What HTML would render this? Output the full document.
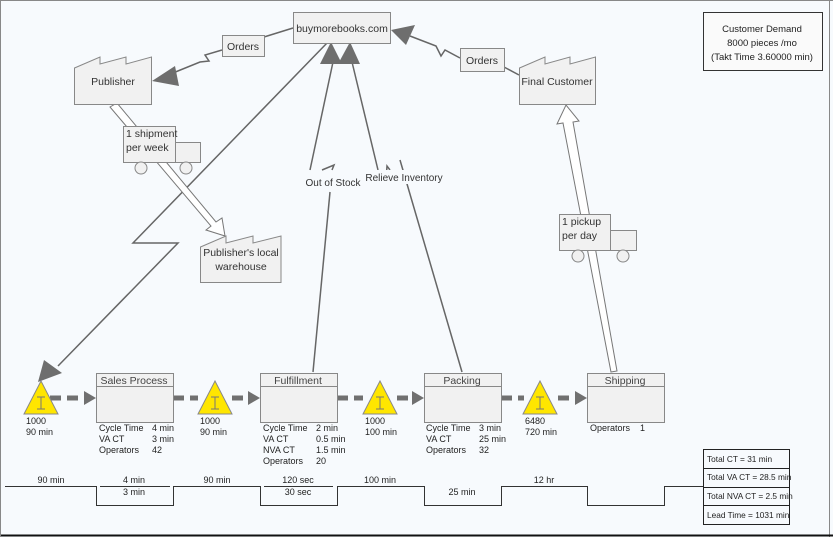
<!DOCTYPE html>
<html><head><meta charset="utf-8"><style>
html,body{margin:0;padding:0;background:#f7fafd;}
svg{display:block;font-family:"Liberation Sans",sans-serif;}
</style></head><body>
<svg width="833" height="537" viewBox="0 0 833 537" xmlns="http://www.w3.org/2000/svg">
<rect x="0" y="0" width="833" height="537" fill="#f7fafd"/>
<line x1="0" y1="0.5" x2="833" y2="0.5" stroke="#888"/>
<line x1="829.5" y1="0" x2="829.5" y2="537" stroke="#888"/>
<line x1="0" y1="535.5" x2="833" y2="535.5" stroke="#111" stroke-width="2"/>
<line x1="0.5" y1="0" x2="0.5" y2="537" stroke="#888"/>

<g stroke="#666" stroke-width="1.5" fill="none">
<polyline points="293,28 264,37"/>
<polyline points="222,50 205,55 209,61 200,62 168,75"/>
<polyline points="460,58 445,50 441,56 436,46 410,36"/>
<polyline points="504,67 519,75"/>
<polyline points="327,43 133,243 178,243 58,366"/>
<polyline points="313,372 330,192"/>
<polyline points="322,170 334,165 332,170"/>
<polyline points="310,170 333,62"/>
<polyline points="462,372 400,160"/>
<polyline points="386,180 387,166 390,170"/>
<polyline points="378,170 352,62"/>
</g>
<g fill="#6e6e6e">
<polygon points="152,81 175,66 179,86"/>
<polygon points="391,30 415,25 406,45"/>
<polygon points="331,42 320,64 342,64"/>
<polygon points="350,42 338,64 360,64"/>
<polygon points="38,382 44,360 62,373"/>
</g>

<g fill="#fff" stroke="#777" stroke-width="1">
<polygon points="110,107 117,103 216,222 222,218 225,236 206,230 211,226"/>
<polygon points="611,372 617,371 573,122 579,121 566,105 557,124 563,123"/>
</g>

<g fill="#f1f1f1" stroke="#888">
<rect x="293.5" y="12.5" width="97" height="31"/>
<rect x="222.5" y="35.5" width="42" height="21"/>
<rect x="460.5" y="48.5" width="44" height="23"/>
<polygon points="74.5,68 100,57 100,64 126,57 126,64 151.5,57 151.5,104.5 74.5,104.5"/>
<polygon points="519.5,68 545,57 545,64 570,57 570,64 595.5,57 595.5,104.5 519.5,104.5"/>
<polygon points="200.5,247 226,236 226,243 253,236 253,243 281,236 281,282.5 200.5,282.5"/>
<rect x="123.5" y="126.5" width="52" height="36"/>
<rect x="175.5" y="142.5" width="25" height="20"/>
<circle cx="141" cy="168" r="6"/>
<circle cx="186" cy="168" r="6"/>
<rect x="559.5" y="214.5" width="51" height="36"/>
<rect x="610.5" y="230.5" width="26" height="20"/>
<circle cx="578" cy="256" r="6"/>
<circle cx="623" cy="256" r="6"/>
</g>
<rect x="703.5" y="12.5" width="119" height="58" fill="#fafafa" stroke="#333"/>

<g font-size="10.5" fill="#333">
<text x="342" y="32" text-anchor="middle">buymorebooks.com</text>
<text x="243" y="50" text-anchor="middle">Orders</text>
<text x="482" y="64" text-anchor="middle">Orders</text>
<text x="113" y="85" text-anchor="middle">Publisher</text>
<text x="557" y="85" text-anchor="middle">Final Customer</text>
<text x="241" y="256" text-anchor="middle">Publisher's local</text>
<text x="241" y="270" text-anchor="middle">warehouse</text>
<text x="126" y="137">1 shipment</text>
<text x="126" y="151">per week</text>
<text x="562" y="225">1 pickup</text>
<text x="562" y="239">per day</text>
</g>
<rect x="303" y="175" width="60" height="14" fill="#f7fafd"/>
<rect x="365" y="170" width="80" height="14" fill="#f7fafd"/>
<g font-size="10" fill="#333">
<text x="333" y="186" text-anchor="middle">Out of Stock</text>
<text x="404" y="181" text-anchor="middle">Relieve Inventory</text>
</g>
<g font-size="9.5" fill="#222" text-anchor="middle">
<text x="762" y="32">Customer Demand</text>
<text x="762" y="46">8000 pieces /mo</text>
<text x="762" y="60">(Takt Time 3.60000 min)</text>
</g>

<g stroke="#707070" stroke-width="5" stroke-dasharray="11,6">
<line x1="50" y1="398" x2="84" y2="398"/>
<line x1="173" y1="398" x2="198" y2="398"/>
<line x1="232" y1="398" x2="248" y2="398"/>
<line x1="337" y1="398" x2="363" y2="398"/>
<line x1="397" y1="398" x2="412" y2="398"/>
<line x1="501" y1="398" x2="524" y2="398"/>
<line x1="558" y1="398" x2="575" y2="398"/>
</g>
<g fill="#707070">
<polygon points="96,398 84,391 84,405"/>
<polygon points="260,398 248,391 248,405"/>
<polygon points="424,398 412,391 412,405"/>
<polygon points="587,398 575,391 575,405"/>
</g>

<g fill="#f1f1f1" stroke="#888">
<rect x="96.5" y="373.5" width="77" height="49"/>
<rect x="260.5" y="373.5" width="77" height="49"/>
<rect x="424.5" y="373.5" width="77" height="49"/>
<rect x="587.5" y="373.5" width="77" height="49"/>
</g>
<g stroke="#888">
<line x1="96" y1="386.5" x2="174" y2="386.5"/>
<line x1="260" y1="386.5" x2="338" y2="386.5"/>
<line x1="424" y1="386.5" x2="502" y2="386.5"/>
<line x1="587" y1="386.5" x2="665" y2="386.5"/>
</g>
<g font-size="10.5" fill="#444" text-anchor="middle">
<text x="134" y="384">Sales Process</text>
<text x="298" y="384">Fulfillment</text>
<text x="462" y="384">Packing</text>
<text x="625" y="384">Shipping</text>
</g>

<g fill="#ffe600" stroke="#888">
<polygon points="41,381 24,414 58,414"/>
<polygon points="215,381 198,414 232,414"/>
<polygon points="380,381 363,414 397,414"/>
<polygon points="540,381 523,414 557,414"/>
</g>
<g stroke="#777" stroke-width="1" fill="none">
<path d="M37,397h8M41,397v12M37,409h8"/>
<path d="M211,397h8M215,397v12M211,409h8"/>
<path d="M376,397h8M380,397v12M376,409h8"/>
<path d="M536,397h8M540,397v12M536,409h8"/>
</g>

<g font-size="9" fill="#222">
<text x="26" y="424">1000</text><text x="26" y="435">90 min</text>
<text x="200" y="424">1000</text><text x="200" y="435">90 min</text>
<text x="365" y="424">1000</text><text x="365" y="435">100 min</text>
<text x="525" y="424">6480</text><text x="525" y="435">720 min</text>
<text x="99" y="431">Cycle Time</text><text x="152" y="431">4 min</text>
<text x="99" y="442">VA CT</text><text x="152" y="442">3 min</text>
<text x="99" y="453">Operators</text><text x="152" y="453">42</text>
<text x="263" y="431">Cycle Time</text><text x="316" y="431">2 min</text>
<text x="263" y="442">VA CT</text><text x="316" y="442">0.5 min</text>
<text x="263" y="453">NVA CT</text><text x="316" y="453">1.5 min</text>
<text x="263" y="464">Operators</text><text x="316" y="464">20</text>
<text x="426" y="431">Cycle Time</text><text x="479" y="431">3 min</text>
<text x="426" y="442">VA CT</text><text x="479" y="442">25 min</text>
<text x="426" y="453">Operators</text><text x="479" y="453">32</text>
<text x="590" y="431">Operators</text><text x="640" y="431">1</text>
</g>

<polyline fill="none" stroke="#333" points="5,486.5 96.5,486.5 96.5,505.5 173.5,505.5 173.5,486.5 260.5,486.5 260.5,505.5 337.5,505.5 337.5,486.5 424.5,486.5 424.5,505.5 501.5,505.5 501.5,486.5 587.5,486.5 587.5,505.5 664.5,505.5 664.5,486.5 703,486.5"/>
<g stroke="#333"><line x1="100" y1="486.5" x2="170" y2="486.5"/><line x1="264" y1="486.5" x2="333" y2="486.5"/></g>
<g font-size="9" fill="#222" text-anchor="middle">
<text x="51" y="483">90 min</text>
<text x="134" y="483">4 min</text><text x="134" y="495">3 min</text>
<text x="217" y="483">90 min</text>
<text x="298" y="483">120 sec</text><text x="298" y="495">30 sec</text>
<text x="380" y="483">100 min</text>
<text x="462" y="495">25 min</text>
<text x="544" y="483">12 hr</text>
</g>

<rect x="703.5" y="449.5" width="86" height="75" fill="#f7fafd" stroke="#222"/>
<g stroke="#222">
<line x1="703" y1="468.5" x2="790" y2="468.5"/>
<line x1="703" y1="487.5" x2="790" y2="487.5"/>
<line x1="703" y1="505.5" x2="790" y2="505.5"/>
</g>
<g font-size="8.3" fill="#222">
<text x="707" y="462">Total CT = 31 min</text>
<text x="707" y="480">Total VA CT = 28.5 min</text>
<text x="707" y="499">Total NVA CT = 2.5 min</text>
<text x="707" y="518">Lead Time = 1031 min</text>
</g>
</svg>
</body></html>
